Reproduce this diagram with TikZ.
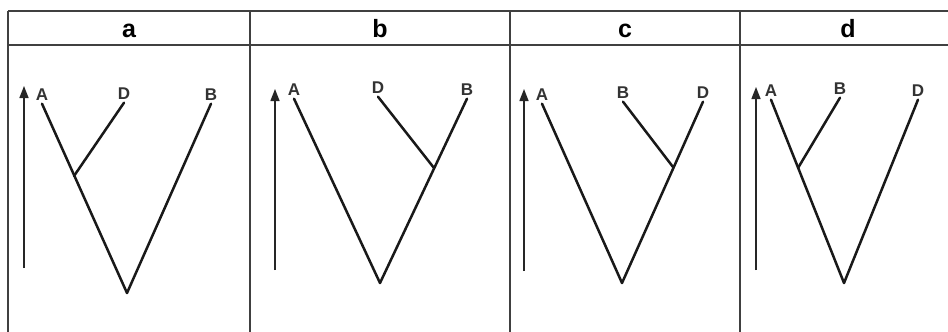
\documentclass[tikz,border=0pt]{standalone}
\usepackage{fontspec}
\setmainfont{Liberation Sans}
\usetikzlibrary{arrows.meta}
\begin{document}
\begin{tikzpicture}[x=1pt,y=-1pt,
  gridline/.style={draw=black!75,line width=1.6pt},
  treeline/.style={draw=black!90,line width=2.5pt,line cap=round},
  axisline/.style={draw=black!85,line width=1.4pt,-{Triangle[width=9pt,length=12pt]}},
  leaf/.style={font=\bfseries\fontsize{17}{17}\selectfont,text=black!80,anchor=base,inner sep=3.5pt},
  head/.style={font=\bfseries\fontsize{25}{25}\selectfont,anchor=base,inner sep=0pt}]
\useasboundingbox[fill=white] (0,0) rectangle (948,332);
% table
\coordinate (tl) at (8,11);
\coordinate (tr) at (948,11);
\coordinate (hl) at (8,45);
\coordinate (hr) at (948,45);
\draw[gridline] (tl) -- (tr);
\draw[gridline] (hl) -- (hr);
\foreach \x/\n in {8/v0,250/v1,510/v2,740/v3}{
  \coordinate (\n t) at (\x,11);
  \coordinate (\n b) at (\x,332);
  \draw[gridline] (\n t) -- (\n b);
}
\node[head] (ha) at (129,37) {a};
\node[head] (hb) at (380,37) {b};
\node[head] (hc) at (625,37) {c};
\node[head] (hd) at (848,37) {d};
% panel a
\node[leaf] (aA) at (42,100) {A};
\node[leaf] (aD) at (124,99) {D};
\node[leaf] (aB) at (211,100) {B};
\coordinate (ar) at (127,293);
\coordinate (an) at (74,176);
\draw[treeline] (aA.south) -- (ar);
\draw[treeline] (aD.south) -- (an);
\draw[treeline] (aB.south) -- (ar);
\coordinate (aab) at (24,268);
\coordinate (aat) at (24,86);
\draw[axisline] (aab) -- (aat);
% panel b
\node[leaf] (bA) at (294,95) {A};
\node[leaf] (bD) at (378,93) {D};
\node[leaf] (bB) at (467,95) {B};
\coordinate (br) at (380,283);
\coordinate (bn) at (434,168);
\draw[treeline] (bA.south) -- (br);
\draw[treeline] (bD.south) -- (bn);
\draw[treeline] (bB.south) -- (br);
\coordinate (bab) at (275,270);
\coordinate (bat) at (275,89);
\draw[axisline] (bab) -- (bat);
% panel c
\node[leaf] (cA) at (542,100) {A};
\node[leaf] (cB) at (623,98) {B};
\node[leaf] (cD) at (703,98) {D};
\coordinate (cr) at (622,283);
\coordinate (cn) at (673,167);
\draw[treeline] (cA.south) -- (cr);
\draw[treeline] (cB.south) -- (cn);
\draw[treeline] (cD.south) -- (cr);
\coordinate (cab) at (524,271);
\coordinate (cat) at (524,89);
\draw[axisline] (cab) -- (cat);
% panel d
\node[leaf] (dA) at (771,96) {A};
\node[leaf] (dB) at (840,94) {B};
\node[leaf] (dD) at (918,96) {D};
\coordinate (dr) at (844,283);
\coordinate (dn) at (798,168);
\draw[treeline] (dA.south) -- (dr);
\draw[treeline] (dB.south) -- (dn);
\draw[treeline] (dD.south) -- (dr);
\coordinate (dab) at (756,270);
\coordinate (dat) at (756,87);
\draw[axisline] (dab) -- (dat);
\end{tikzpicture}
\end{document}
